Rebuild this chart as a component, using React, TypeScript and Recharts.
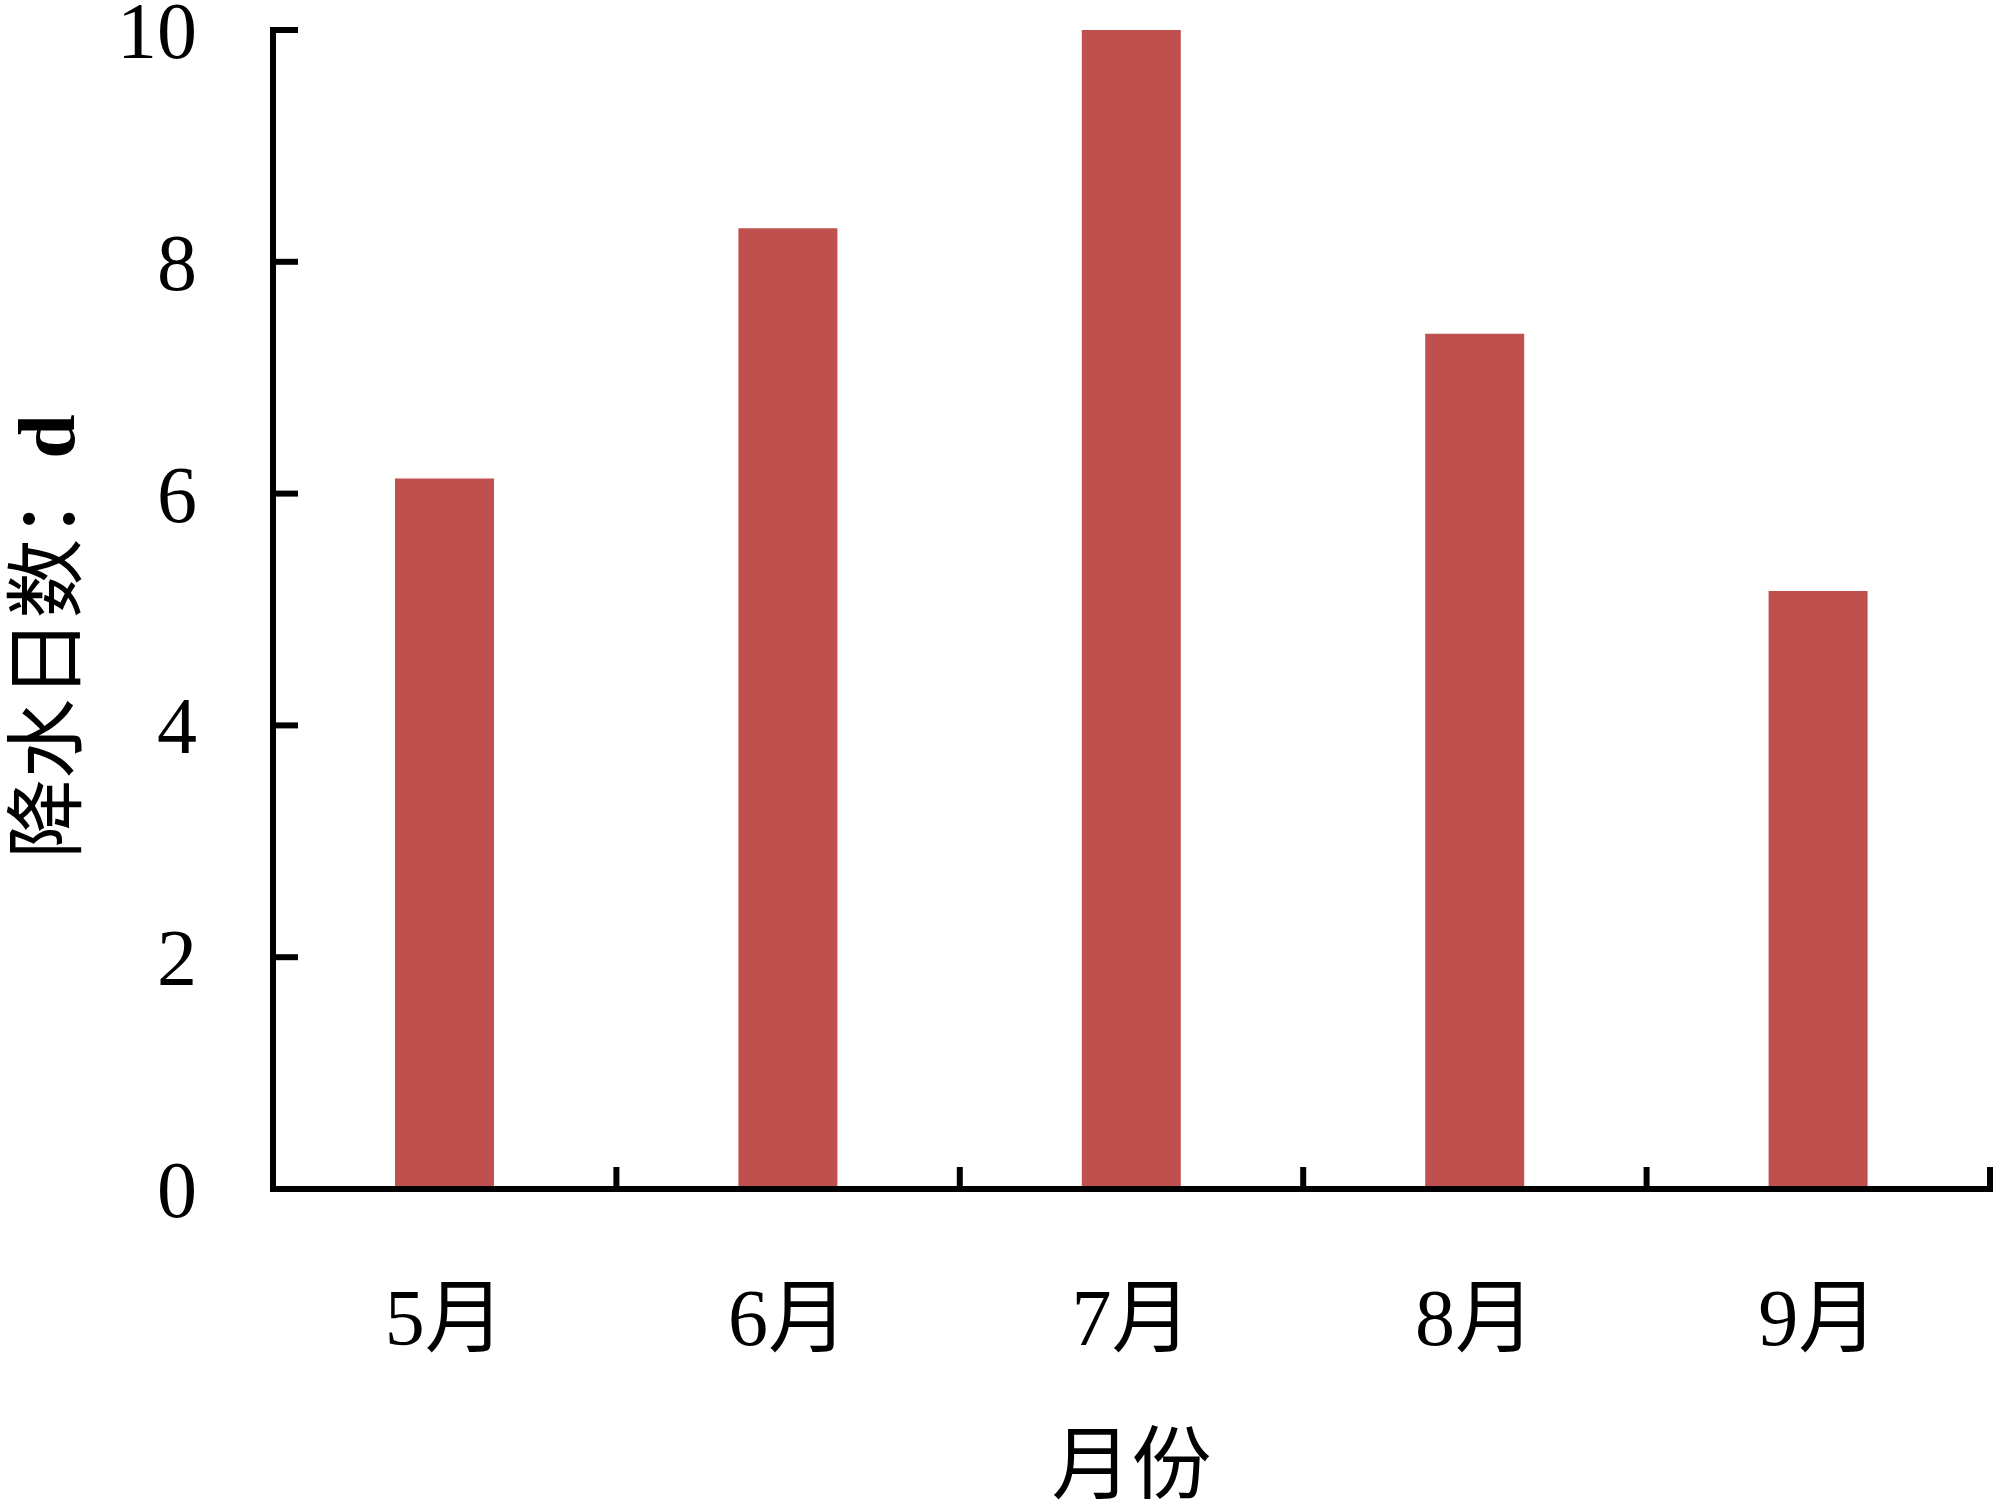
import { BarChart, Bar, XAxis, YAxis } from "recharts";

const months = ["5月", "6月", "7月", "8月", "9月"];
const rainDays = [6.13, 8.29, 10, 7.38, 5.16];
const yTicks = [0, 2, 4, 6, 8, 10];

const data = months.map((m, i) => ({ month: m, days: rainDays[i] }));

const FONT = "'Liberation Serif', 'Times New Roman', 'Noto Sans CJK SC', serif";
const INK = "#000";
const LINE_W = 6;

function YTick(props: any) {
  const { x, y, payload } = props;
  return (
    <g>
      <line x1={x} y1={y} x2={x + 25} y2={y} stroke={INK} strokeWidth={LINE_W} />
      <text x={x - 76} y={y + 28} textAnchor="end" fontSize={80} fontFamily={FONT} fill={INK}>
        {payload.value}
      </text>
    </g>
  );
}

function XTick(props: any) {
  const { x, y, payload } = props;
  // tick marks sit on the category boundaries, pointing up into the plot
  const edge = x + (payload.offset ?? 0);
  return (
    <g>
      <line x1={edge} y1={y} x2={edge} y2={y - 22} stroke={INK} strokeWidth={LINE_W} />
      <text x={x} y={y + 156} textAnchor="middle" fontSize={80} fontFamily={FONT} fill={INK}>
        {payload.value}
      </text>
    </g>
  );
}

export default function App() {
  return (
    <div style={{ position: "absolute", left: 0, top: 0, background: "#fff" }}>
      <BarChart
        width={2000}
        height={1509}
        data={data}
        margin={{ top: 30, right: 10, bottom: 0, left: 0 }}
      >
        <XAxis
          dataKey="month"
          height={320}
          tickSize={0}
          tickMargin={0}
          tickLine={false}
          axisLine={{ stroke: INK, strokeWidth: LINE_W, strokeLinecap: "square" }}
          tick={<XTick />}
          interval={0}
          label={{
            content: ({ viewBox }: any) => (
              <text
                x={viewBox.x + viewBox.width / 2}
                y={viewBox.y + 303}
                textAnchor="middle"
                fontSize={80}
                fontFamily={FONT}
                fill={INK}
              >
                月份
              </text>
            ),
          }}
        />
        <YAxis
          width={273}
          domain={[0, 10]}
          ticks={yTicks}
          tickSize={0}
          tickMargin={0}
          tickLine={false}
          axisLine={{ stroke: INK, strokeWidth: LINE_W, strokeLinecap: "square" }}
          tick={<YTick />}
          interval={0}
          label={{
            content: ({ viewBox }: any) => {
              const cx = viewBox.x + 74;
              const cy = viewBox.y + viewBox.height / 2 + 27;
              return (
                <text
                  x={cx}
                  y={cy}
                  transform={`rotate(-90, ${cx}, ${cy})`}
                  textAnchor="middle"
                  fontSize={80}
                  fontFamily={FONT}
                  fill={INK}
                >
                  降水日数：<tspan fontWeight="bold">d</tspan>
                </text>
              );
            },
          }}
        />
        <Bar dataKey="days" fill="#C0504D" barSize={99} isAnimationActive={false} />
      </BarChart>
    </div>
  );
}
